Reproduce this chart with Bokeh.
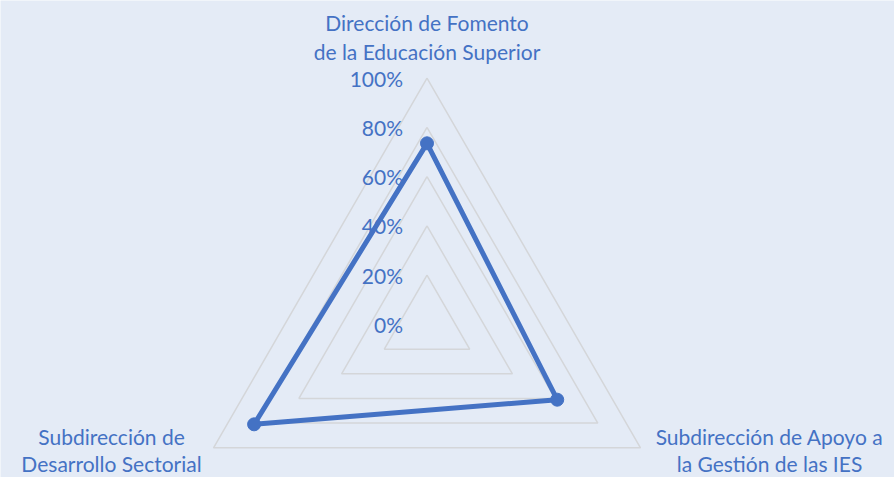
import numpy as np
from bokeh.plotting import figure
from bokeh.models import Range1d
from bokeh.core.properties import value
from bokeh.embed import file_html
from bokeh.resources import INLINE

# ---- data ----
categories = [
    ["Dirección de Fomento", "de la Educación Superior"],
    ["Subdirección de Apoyo a", "la Gestión de las IES"],
    ["Subdirección de", "Desarrollo Sectorial"],
]
values = [0.735, 0.61, 0.81]
ring_levels = [0.0, 0.2, 0.4, 0.6, 0.8, 1.0]
tick_labels = ["0%", "20%", "40%", "60%", "80%", "100%"]

BG = "#E4EBF6"
BLUE = "#4472C4"
GRID = "#D4D6D9"
FONT = "Lato"
FS = "21px"

W, H = 894, 477
R = 246.5          # pixels for 100%
cx, cy = 426.5, 324  # centre in figure pixels

p = figure(width=W, height=H, output_backend="svg", toolbar_location=None,
           x_range=Range1d(-cx / R, (W - cx) / R),
           y_range=Range1d(-(H - cy) / R, cy / R),
           min_border=0, background_fill_color=BG, border_fill_color=BG,
           outline_line_color=None)
p.axis.visible = False
p.grid.visible = False

n = len(values)
angles = [np.pi / 2 - 2 * np.pi * i / n for i in range(n)]
ca, sa = np.cos(angles), np.sin(angles)

# rings (skip 0)
for lv in ring_levels[1:]:
    xs = list(lv * ca) + [lv * ca[0]]
    ys = list(lv * sa) + [lv * sa[0]]
    p.line(xs, ys, line_color=GRID, line_width=1.5)

# data
dx = list(np.array(values) * ca)
dy = list(np.array(values) * sa)
p.line(dx + [dx[0]], dy + [dy[0]], line_color=BLUE, line_width=5, line_join="round")
p.scatter(dx, dy, size=13, fill_color=BLUE, line_color=BLUE)

# tick labels
p.text(x=[0] * len(ring_levels), y=ring_levels, text=tick_labels,
       x_offset=-24, text_align="right", text_baseline="middle",
       text_color=BLUE, text_font=value(FONT), text_font_size=FS)

# category labels
lh = 29
p.text(x=[0, 0], y=[1, 1], text=categories[0], y_offset=[-56, -56 + lh],
       text_align="center", text_baseline="middle",
       text_color=BLUE, text_font=value(FONT), text_font_size=FS)
p.text(x=[ca[1]] * 2, y=[sa[1]] * 2, text=categories[1], x_offset=129, y_offset=[-11, -13 + lh],
       text_align="center", text_baseline="middle",
       text_color=BLUE, text_font=value(FONT), text_font_size=FS)
p.text(x=[ca[2]] * 2, y=[sa[2]] * 2, text=categories[2], x_offset=-102, y_offset=[-11, -13 + lh],
       text_align="center", text_baseline="middle",
       text_color=BLUE, text_font=value(FONT), text_font_size=FS)

open("out.html", "w").write(file_html(p, INLINE))
